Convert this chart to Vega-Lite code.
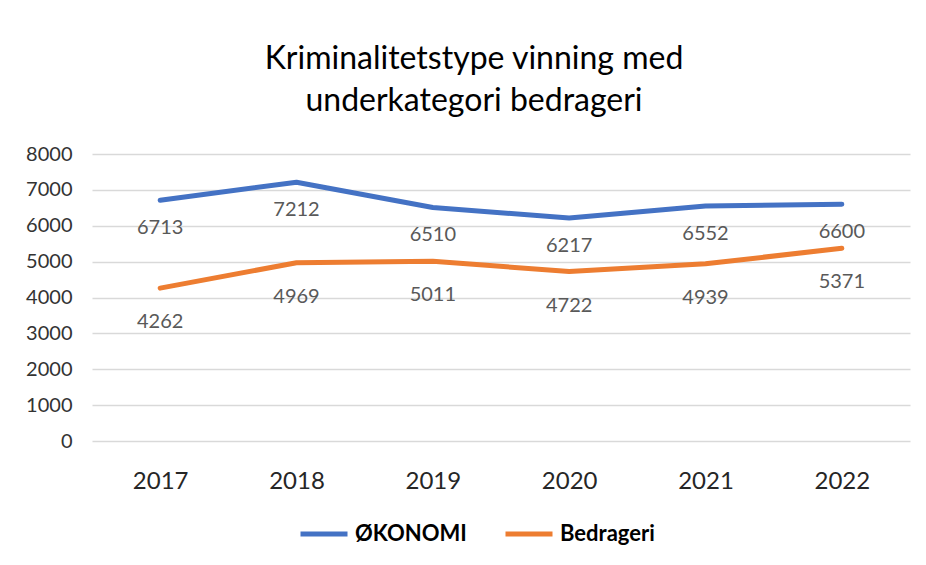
{
  "$schema": "https://vega.github.io/schema/vega-lite/v6.json",
  "width": 818,
  "height": 287,
  "autosize": {"type": "none"},
  "padding": {"left": 92, "top": 154, "right": 16, "bottom": 124},
  "background": "white",
  "title": {
    "text": ["Kriminalitetstype vinning med", "underkategori bedrageri"],
    "font": "Lato",
    "fontSize": 32,
    "fontWeight": "normal",
    "color": "#000000",
    "anchor": "middle",
    "lineHeight": 42,
    "offset": 26,
    "dx": -27
  },
  "data": {
    "values": [
      {"year": "2017", "series": "ØKONOMI", "value": 6713},
      {"year": "2018", "series": "ØKONOMI", "value": 7212},
      {"year": "2019", "series": "ØKONOMI", "value": 6510},
      {"year": "2020", "series": "ØKONOMI", "value": 6217},
      {"year": "2021", "series": "ØKONOMI", "value": 6552},
      {"year": "2022", "series": "ØKONOMI", "value": 6600},
      {"year": "2017", "series": "Bedrageri", "value": 4262},
      {"year": "2018", "series": "Bedrageri", "value": 4969},
      {"year": "2019", "series": "Bedrageri", "value": 5011},
      {"year": "2020", "series": "Bedrageri", "value": 4722},
      {"year": "2021", "series": "Bedrageri", "value": 4939},
      {"year": "2022", "series": "Bedrageri", "value": 5371}
    ]
  },
  "encoding": {
    "x": {
      "field": "year",
      "type": "ordinal",
      "scale": {"type": "point", "padding": 0.5},
      "axis": {
        "title": null,
        "labelAngle": 0,
        "labelFont": "Lato",
        "labelFontSize": 24,
        "labelColor": "#262626",
        "labelPadding": 28,
        "domain": false,
        "ticks": false,
        "grid": false
      }
    },
    "y": {
      "field": "value",
      "type": "quantitative",
      "scale": {"domain": [0, 8000]},
      "axis": {
        "title": null,
        "values": [0, 1000, 2000, 3000, 4000, 5000, 6000, 7000, 8000],
        "format": "d",
        "labelFont": "Lato",
        "labelFontSize": 20,
        "labelColor": "#333333",
        "labelPadding": 20,
        "domain": false,
        "ticks": false,
        "grid": true,
        "gridColor": "#D9D9D9",
        "gridWidth": 1.5
      }
    }
  },
  "layer": [
    {
      "mark": {"type": "line", "strokeWidth": 5, "strokeCap": "round", "strokeJoin": "round"},
      "encoding": {
        "color": {
          "field": "series",
          "type": "nominal",
          "scale": {"domain": ["ØKONOMI", "Bedrageri"], "range": ["#4472C4", "#ED7D31"]},
          "legend": {
            "title": null,
            "orient": "none",
            "direction": "horizontal",
            "legendX": 206,
            "legendY": 354,
            "symbolType": "stroke",
            "symbolSize": 2209,
            "symbolStrokeWidth": 5,
            "labelFont": "Lato",
            "labelFontSize": 22,
            "labelFontWeight": "bold",
            "labelColor": "#000000",
            "labelOffset": 5,
            "columnPadding": 28
          }
        }
      }
    },
    {
      "transform": [{"filter": "datum.series === 'ØKONOMI'"}],
      "mark": {"type": "text", "font": "Lato", "fontSize": 20, "color": "#595959", "dy": 28, "baseline": "middle"},
      "encoding": {"text": {"field": "value", "type": "quantitative", "format": "d"}}
    },
    {
      "transform": [{"filter": "datum.series === 'Bedrageri'"}],
      "mark": {"type": "text", "font": "Lato", "fontSize": 20, "color": "#595959", "dy": 34, "baseline": "middle"},
      "encoding": {"text": {"field": "value", "type": "quantitative", "format": "d"}}
    }
  ],
  "config": {"view": {"stroke": null}}
}
